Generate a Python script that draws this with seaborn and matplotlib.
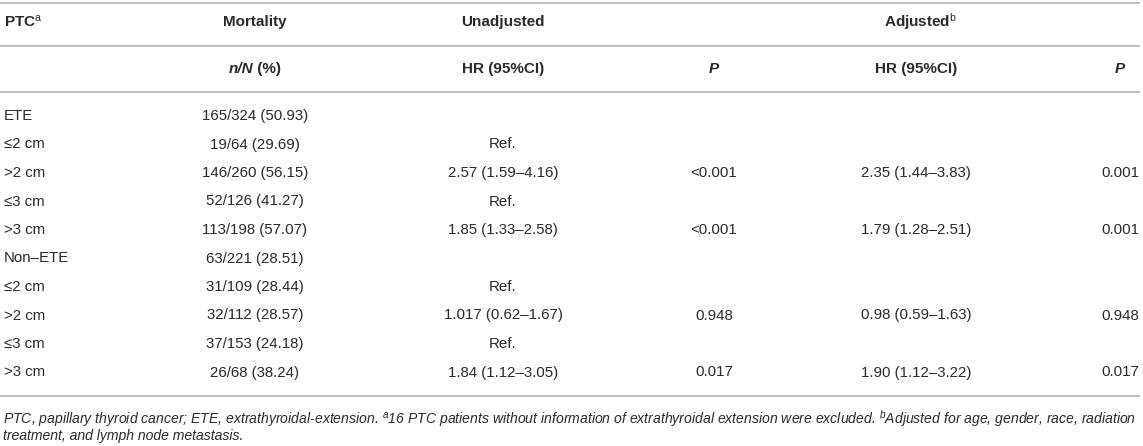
import matplotlib
matplotlib.use("Agg")
import numpy as np
import pandas as pd
import matplotlib.pyplot as plt
import seaborn as sns

# table data
labels = ["ETE", "≤2 cm", ">2 cm", "≤3 cm", ">3 cm",
          "Non–ETE", "≤2 cm", ">2 cm", "≤3 cm", ">3 cm"]
mortality = ["165/324 (50.93)", "19/64 (29.69)", "146/260 (56.15)", "52/126 (41.27)",
             "113/198 (57.07)", "63/221 (28.51)", "31/109 (28.44)", "32/112 (28.57)",
             "37/153 (24.18)", "26/68 (38.24)"]
hr_unadj = ["", "Ref.", "2.57 (1.59–4.16)", "Ref.", "1.85 (1.33–2.58)",
            "", "Ref.", "1.017 (0.62–1.67)", "Ref.", "1.84 (1.12–3.05)"]
p_unadj = ["", "", "<0.001", "", "<0.001", "", "", "0.948", "", "0.017"]
hr_adj = ["", "", "2.35 (1.44–3.83)", "", "1.79 (1.28–2.51)",
          "", "", "0.98 (0.59–1.63)", "", "1.90 (1.12–3.22)"]
p_adj = ["", "", "0.001", "", "0.001", "", "", "0.948", "", "0.017"]

foot1 = (r"PTC, papillary thyroid cancer; ETE, extrathyroidal-extension. $^{a}$16 PTC patients "
         r"without information of extrathyroidal extension were excluded. $^{b}$Adjusted for age, gender, race, radiation")
foot2 = "treatment, and lymph node metastasis."

sns.set_theme(style="white")
plt.rcParams["font.family"] = ["Liberation Sans", "DejaVu Sans"]
plt.rcParams["mathtext.fontset"] = "custom"
plt.rcParams["mathtext.rm"] = "Liberation Sans"
plt.rcParams["mathtext.it"] = "Liberation Sans:italic"
plt.rcParams["mathtext.bf"] = "Liberation Sans:bold"

W, H = 1143, 446
fig = plt.figure(figsize=(W / 100, H / 100), dpi=100)
ax = fig.add_axes([0, 0, 1, 1])
ax.set_xlim(0, W)
ax.set_ylim(H, 0)
ax.axis("off")
sns.despine(ax=ax, left=True, bottom=True)

df = pd.DataFrame({"label": labels, "mort": mortality, "hr_u": hr_unadj,
                   "p_u": p_unadj, "hr_a": hr_adj, "p_a": p_adj})
row0, row_h = 116, 28.5
df["y"] = row0 + df.index * row_h

# column centres
cols = {"mort": 255, "hr_u": 503, "p_u": 714, "hr_a": 916, "p_a": 1120}
x_left = 4
txt = "#2a2a2a"
body_fs = 10.8
head_fs = 11

# rules
line_c = "#b3b3b3"
for yy in [3, 46, 92, 396]:
    ax.plot([0, 1140], [yy, yy], color=line_c, lw=1.2, solid_capstyle="butt")

# header row 1
hy1, hy2 = 22, 69
ax.text(x_left, hy1, r"PTC$^{\mathrm{a}}$", ha="left", va="center",
        fontsize=head_fs, fontweight="bold", color=txt)
ax.text(cols["mort"], hy1, "Mortality", ha="center", va="center",
        fontsize=head_fs, fontweight="bold", color=txt)
ax.text(cols["hr_u"], hy1, "Unadjusted", ha="center", va="center",
        fontsize=head_fs, fontweight="bold", color=txt)
ax.text(920, hy1, r"Adjusted$^{\mathrm{b}}$", ha="center", va="center",
        fontsize=head_fs, fontweight="bold", color=txt)

# header row 2
ax.text(cols["mort"] - 2, hy2, "n/N", ha="right", va="center", fontsize=head_fs,
        fontweight="bold", fontstyle="italic", color=txt)
ax.text(cols["mort"] - 2, hy2, " (%)", ha="left", va="center", fontsize=head_fs,
        fontweight="bold", color=txt)
for c in ["hr_u", "hr_a"]:
    ax.text(cols[c], hy2, "HR (95%CI)", ha="center", va="center",
            fontsize=head_fs, fontweight="bold", color=txt)
for c in ["p_u", "p_a"]:
    ax.text(cols[c], hy2, "P", ha="center", va="center", fontsize=head_fs,
            fontweight="bold", fontstyle="italic", color=txt)

# body
for _, r in df.iterrows():
    ax.text(x_left, r["y"], r["label"], ha="left", va="center",
            fontsize=body_fs, color=txt)
    for c in cols:
        if r[c]:
            ax.text(cols[c], r["y"], r[c], ha="center", va="center",
                    fontsize=body_fs, color=txt)

# footnote, scaled to the table width
f1 = ax.text(3, 419, foot1, ha="left", va="center", fontsize=10,
             fontstyle="italic", color=txt)
fig.canvas.draw()
bb = f1.get_window_extent(fig.canvas.get_renderer())
fs = 10 * 1136 / bb.width
f1.set_fontsize(fs)
ax.text(3, 436, foot2, ha="left", va="center", fontsize=fs,
        fontstyle="italic", color=txt)

fig.savefig("out.png", dpi=100)
